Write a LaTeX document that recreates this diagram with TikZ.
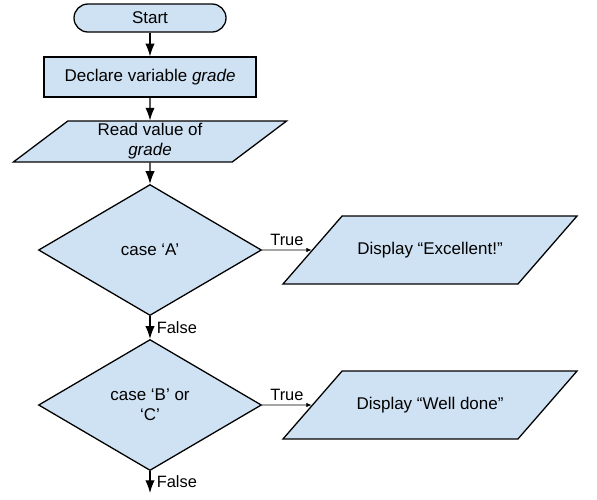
\documentclass[tikz,border=0pt]{standalone}
\usepackage{fontspec}
\setmainfont{Liberation Sans}
\usetikzlibrary{shapes.geometric,arrows.meta}
\definecolor{boxblue}{HTML}{CFE2F3}
\tikzset{
 shape base/.style={draw,line width=1.1pt,fill=boxblue,font=\fontsize{14.5}{17}\selectfont,align=center,inner sep=0pt},
 terminal/.style={shape base,rounded corners=0.42cm,minimum width=4.56cm,minimum height=0.84cm},
 process/.style={shape base,minimum width=6.36cm,minimum height=1.2cm},
 io/.style={shape base,trapezium,trapezium stretches body=true},
 output/.style={io,trapezium left angle=49,trapezium right angle=131,minimum width=8.82cm,text height=10.5pt,text depth=3.5pt,inner ysep=0.773cm},
 decision/.style={shape base,diamond,minimum width=6.69cm,minimum height=3.93cm},
 flow/.style={line width=1pt,-{Latex[length=3.8mm,width=2.8mm]}},
 branch/.style={line width=0.6pt,-{Latex[length=1.6mm,width=1.3mm]}},
 lbl/.style={font=\fontsize{14}{17}\selectfont}
}
\begin{document}
\begin{tikzpicture}
\useasboundingbox (0,0) rectangle (17.91,-14.97);
%boxes
\node[terminal] (start) at (4.5,-0.54) {Start};
\node[process] (declare) at (4.5,-2.31) {Declare variable \textit{grade}};
\node[io,trapezium left angle=37,trapezium right angle=143,minimum width=8.19cm,text height=27.5pt,text depth=3.5pt,inner ysep=0.068cm] (read) at (4.5,-4.245) {Read value of\\\textit{grade}};
%decisions
\node[decision] (caseA) at (4.5,-7.5) {case ‘A’};
\node[decision] (caseBC) at (4.5,-12.15) {case ‘B’ or\\‘C’};
%outputs
\node[output] (excellent) at (12.9,-7.5) {Display “Excellent!”};
\node[output] (welldone) at (12.9,-12.15) {Display “Well done”};
\coordinate (out) at (4.5,-14.79);
%arrows
\draw[flow] (start) -- (declare);
\draw[flow] (declare) -- (read);
\draw[flow] (read) -- (caseA);
\draw[branch] (caseA) -- node[lbl,above]{True} (excellent);
\draw[flow] (caseA) -- node[lbl,right,xshift=2pt]{False} (caseBC);
\draw[branch] (caseBC) -- node[lbl,above]{True} (welldone);
\draw[flow] (caseBC) -- node[lbl,right,xshift=2pt]{False} (out);
\end{tikzpicture}
\end{document}
